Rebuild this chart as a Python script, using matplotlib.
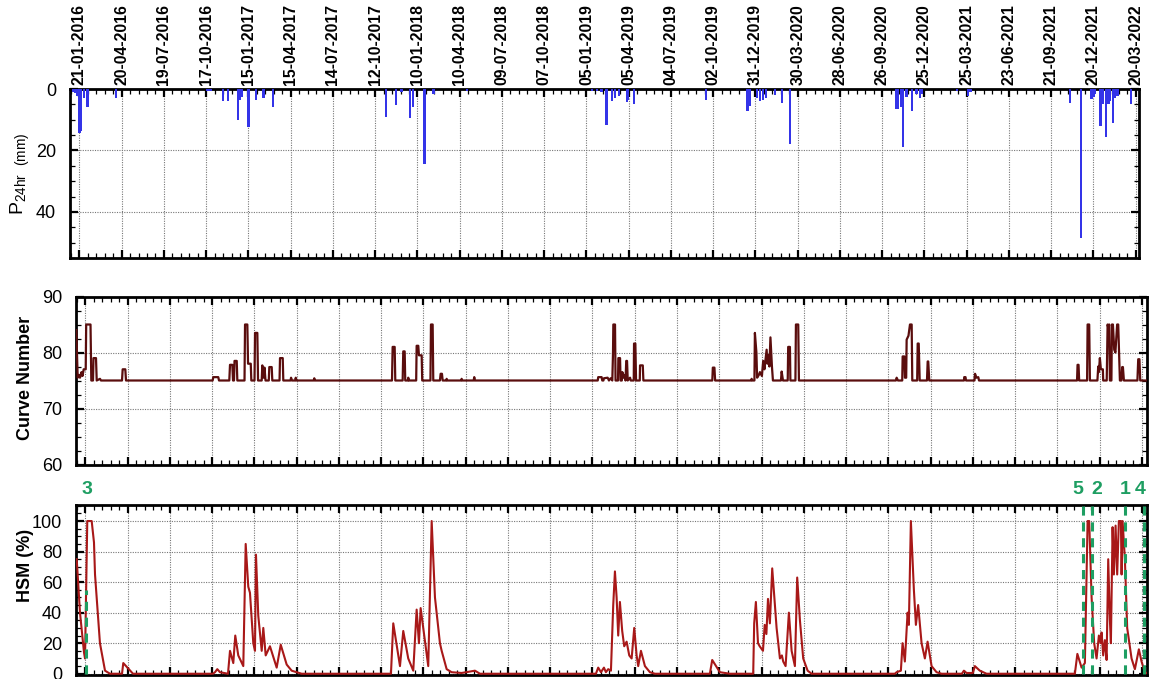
import numpy as np
import pandas as pd
import matplotlib
matplotlib.use("Agg")
import matplotlib.pyplot as plt
import matplotlib.transforms as mtransforms
from matplotlib.ticker import AutoMinorLocator, MultipleLocator, FixedLocator

plt.rcParams['font.family'] = ['Liberation Sans', 'DejaVu Sans']

START = pd.Timestamp('2016-01-01')

# tick labels along the top axis (every 90 days)
tick_labels = ['21-01-2016', '20-04-2016', '19-07-2016', '17-10-2016', '15-01-2017',
               '15-04-2017', '14-07-2017', '12-10-2017', '10-01-2018', '10-04-2018',
               '09-07-2018', '07-10-2018', '05-01-2019', '05-04-2019', '04-07-2019',
               '02-10-2019', '31-12-2019', '30-03-2020', '28-06-2020', '26-09-2020',
               '25-12-2020', '25-03-2021', '23-06-2021', '21-09-2021', '20-12-2021',
               '20-03-2022']

# daily rainfall (day since 2016-01-01, mm)
rain_day = [7, 11, 15, 20, 24, 30, 37, 98, 293, 299, 326, 336, 358, 362, 367, 380,
            396, 412, 433, 673, 694, 706, 724, 731, 755, 774, 845,
            1112, 1122, 1132, 1143, 1155, 1161, 1169, 1186, 1189, 1202, 1355,
            1443, 1448, 1463, 1470, 1476, 1482, 1502, 1516, 1534,
            1759, 1764, 1771, 1775, 1782, 1793, 1803, 1810, 1815, 1889, 1913, 1918,
            2130, 2153, 2176, 2180, 2183, 2195, 2200, 2207, 2212, 2215, 2221, 2226,
            2231, 2260]
rain_mm = [1.0, 1.2, 2.4, 14.3, 13.8, 3.0, 6.0, 3.0, 0.8, 0.8, 4.0, 3.8, 10.0, 3.5, 2.5, 12.3,
           3.5, 3.0, 6.0, 9.0, 5.2, 1.0, 9.5, 5.8, 24.5, 1.6, 0.5,
           0.8, 0.5, 1.0, 11.8, 4.0, 3.0, 2.4, 4.3, 3.5, 4.8, 3.5,
           7.2, 5.4, 3.0, 4.0, 3.5, 3.0, 1.8, 4.5, 18.0,
           6.4, 6.4, 5.7, 19.0, 2.5, 7.0, 1.5, 3.0, 1.5, 0.8, 2.4, 1.0,
           4.4, 48.6, 3.4, 2.5, 1.5, 12.2, 5.0, 15.5, 5.0, 4.0, 11.0, 3.0,
           2.2, 5.0]

# curve number
cn_day = [0.6, 3.6, 6.4, 8.5, 11.7, 13.8, 16.4, 20.7, 21.7, 30.9, 32.6, 36.2, 37.3, 42.6, 44.1,
          51.1, 53.2, 98, 99.4, 105, 106.5, 291, 292.4, 303, 304.6, 326.5, 328, 332.9, 334.4,
          336.5, 337.6, 342.3, 343.6, 358.9, 360, 364.9, 366.4, 372.2, 373.4, 380.2, 381.3,
          386.2, 387.7, 395.5, 396.8, 399.4, 401.5, 403.6, 410.6, 411.7, 416.8, 418.1, 433.5,
          434.5, 440.3, 441.5, 456.9, 458, 460.1, 466.9, 468, 469.6, 506.2, 507.5, 509,
          673, 674.4, 678.7, 680, 695.7, 697, 700, 701.2, 707, 707.6, 709.1, 724.5, 725.5,
          729, 730.4, 736.2, 737.4, 754.9, 756, 759.6, 760.9, 775.1, 776.6, 779.4, 780.9,
          788.6, 789.4, 791.1, 820.5, 821.3, 823, 846.9, 848.2, 849.7,
          1111.2, 1112.2, 1119.5, 1120.8, 1123.3, 1124.4, 1132.3, 1135.1, 1138.7, 1142.2,
          1143.7, 1144.4, 1148, 1149.1, 1154.4, 1155.1, 1158.7, 1159.8, 1162.5, 1163.6,
          1166.1, 1167.8, 1170.4, 1171.9, 1173.6, 1175.1, 1180, 1181.5, 1187.9, 1188.5,
          1191.3, 1192.8, 1200.7, 1201.3, 1207.1, 1208.4, 1355.2, 1356.3, 1359.7, 1361.2,
          1438.1, 1438.9, 1440.6, 1444.9, 1445.9, 1449.1, 1450.6, 1454.4, 1456.6, 1460.8,
          1463.6, 1466.2, 1470.9, 1472.6, 1474.3, 1476.8, 1479, 1482.2, 1484.3, 1501.4,
          1502.9, 1505.7, 1515.8, 1516.8, 1520.5, 1521.5, 1532.2, 1533.3, 1538.2, 1539.7,
          1746.3, 1747.8, 1750.6, 1759.7, 1760.6, 1764, 1765.5, 1768.1, 1769.1, 1773,
          1776.2, 1779.8, 1781.1, 1791.5, 1792.6, 1794.8, 1796.9, 1812.4, 1813.9, 1815.1,
          1817.3, 1891.3, 1891.7, 1894.5, 1895.5, 1913.6, 1914.7, 1917.9, 1921.7, 1923.2,
          2132, 2133.1, 2135.2, 2136.5, 2153.4, 2154.5, 2157.9, 2159.4, 2175.4, 2177.1,
          2178.5, 2180.6, 2182.8, 2187, 2187.7, 2195.2, 2197.1, 2198.8, 2200.5, 2202,
          2205.2, 2206.3, 2208.4, 2211.2, 2213.7, 2217.4, 2219.7, 2221.8, 2223.3, 2226.5,
          2228.2, 2229.7, 2231.8, 2260.6, 2262.3, 2264.9, 2266.6, 2280.9]
cn_val = [84, 75.5, 76, 75.5, 76.5, 75.8, 77, 77, 85, 85, 75, 75, 79, 79, 75,
          75.3, 75, 75, 77, 77, 75, 75, 75.6, 75.6, 75, 75, 77.8, 77.8, 75,
          75, 78.5, 78.5, 75, 75, 85, 85, 78, 78, 75, 75, 83.5,
          83.5, 75, 75, 77.7, 75.5, 77.3, 75, 75, 77.4, 77.4, 75, 75,
          79, 79, 75, 75, 75.5, 75, 75, 75.5, 75, 75, 75.4, 75,
          75, 81, 81, 75, 75, 80.2, 80.2, 75, 75, 75.5, 75, 75, 81.2,
          81.2, 79.5, 79.5, 75, 75, 85, 85, 75, 75, 76.2, 76.2, 75,
          75, 75.3, 75, 75, 75.3, 75, 75, 75.6, 75,
          75, 75.6, 75.6, 75, 75, 75.4, 75.5, 75, 75.4, 75,
          79.8, 85, 85, 75, 75, 79, 79, 75, 75, 76.5,
          75.5, 76, 75, 78.5, 78.5, 75, 75.5, 75, 75, 81.6,
          81.6, 75, 75, 77.7, 77.7, 75, 75, 77.3, 77.3, 75,
          75, 75.3, 75, 75, 83.5, 80, 75.5, 76, 76.5, 75.8,
          78.5, 77, 80.5, 78, 79.5, 77.5, 82.7, 77.5, 75, 75,
          76.6, 75, 75, 81, 81, 75, 75, 85, 85, 75,
          75, 75.5, 75, 75, 79.3, 79.3, 75.5, 75.5, 82.3, 83,
          85, 85, 75, 75, 81.6, 81.6, 75, 75, 78.4, 78.4,
          75, 75, 75.6, 75.6, 75, 75, 76.2, 75.5, 75.6, 75,
          75, 77.8, 77.8, 75, 75, 85, 85, 75, 75, 77.5,
          76.5, 79, 77, 77, 75, 75, 85, 84.3, 85, 75,
          75, 85, 85, 80.5, 80, 85, 85, 79, 75, 75,
          77.4, 77.4, 75, 75, 78.8, 78.8, 75, 75]

# soil moisture index HSM (%)
hsm_day = [1.5, 8.5, 17, 19.2, 24, 33.4, 38.3, 40.5, 51, 61.8, 72.4, 98, 100.7, 121.4,
           291.7, 296, 300.9, 306.6, 323.7, 328, 335, 339.2, 345.6, 356.3, 361.4, 366.9,
           370.5, 377.6, 381.2, 383.3, 388.2, 395.5, 398.9, 404, 413.1, 427.4, 436, 448.7,
           459.3, 470, 480.6, 670.8, 675.7, 690, 697, 707.6, 718.3, 725.5, 730.4, 734,
           750.2, 757.5, 764.5, 775.1, 778.8, 789.4, 800, 821.3, 849.7, 860.3,
           1107.3, 1112.2, 1118, 1124.4, 1128.6, 1133.5, 1139.3, 1144.2, 1147.8, 1151.4,
           1154.8, 1158.4, 1163.3, 1167.6, 1172.7, 1178.3, 1183.4, 1188.9, 1194, 1197.4,
           1203.2, 1211.7, 1222.3, 1233, 1350, 1355, 1371.4, 1392.7,
           1435.3, 1442.3, 1444.4, 1448, 1452.5, 1456.1, 1463.1, 1466.8, 1470.4, 1473.8,
           1477.8, 1482.8, 1488.5, 1492.1, 1499.2, 1503.4, 1506.2, 1511.3, 1518.3, 1524.1,
           1531.1, 1536, 1541.8, 1548.8, 1558.2, 1566.7,
           1744, 1747.7, 1756.8, 1760.4, 1765.3, 1771.1, 1773.8, 1778.1, 1784.5, 1788.8,
           1793.6, 1800.9, 1807.9, 1813.7, 1822.2, 1832.8, 1843.5, 1886.7, 1891, 1896.7,
           1910.1, 1914.4, 1925, 1939.3,
           2127.4, 2132.7, 2141.7, 2148.7, 2154.5, 2157.9, 2163, 2168.5, 2173.6, 2178.5,
           2182.2, 2184.3, 2187.7, 2191.3, 2195, 2198.4, 2202, 2204.1, 2207.7, 2210.5,
           2214.1, 2217.5, 2221.1, 2225.4, 2226.9, 2229, 2233.9, 2238.8, 2248.1, 2255.2,
           2263.7, 2269.4, 2276.4, 2282.8]
hsm_val = [75, 40, 14, 10, 100, 100, 86, 65, 20, 2, 0, 0, 7, 0,
           0, 1, 3, 1, 0, 15, 7, 25, 12, 5, 85, 57,
           53, 20, 15, 78, 38, 15, 30, 12, 18, 4, 19, 6,
           2, 1, 0, 0, 33, 5, 28, 10, 2, 42, 20, 43,
           5, 100, 50, 20, 15, 3, 1, 0.5, 2, 0,
           0, 4, 1, 4, 1, 3, 2, 45, 67, 50,
           25, 47, 28, 18, 21, 12, 10, 30, 12, 5,
           15, 5, 1, 0, 0, 9, 1, 0,
           0, 0, 33, 47, 20, 18, 15, 32, 26, 49,
           33, 69, 45, 30, 10, 12, 8, 5, 40, 15,
           5, 63, 35, 10, 2, 0,
           0, 1, 2, 20, 8, 40, 32, 100, 55, 32,
           45, 20, 10, 21, 5, 1, 0, 0, 2, 0.5,
           0.5, 5, 2, 0,
           0, 13, 4, 7, 100, 100, 50, 20, 10, 25,
           20, 27, 12, 22, 9, 75, 35, 20, 96, 65,
           97, 65, 100, 100, 65, 100, 75, 30, 10, 3,
           16, 8, 1, 0]

# event markers in the HSM panel
event_names = ['3', '5', '2', '1', '4']
event_day = [20.7, 2143.8, 2163, 2233.9, 2274.3]
event_top = [55, 110.5, 110.5, 110.5, 110.5]
event_label_day = [24, 2134, 2174, 2234, 2267]


def to_date(days):
    return START + pd.to_timedelta(np.asarray(days, dtype=float), unit='D')


ticks = pd.to_datetime(tick_labels, format='%d-%m-%Y')

fig = plt.figure(figsize=(11.49, 6.79), dpi=100)
ax1 = fig.add_axes([70 / 1149, 1 - 258 / 679, 1069 / 1149, 169 / 679])
ax2 = fig.add_axes([76 / 1149, 1 - 464.5 / 679, 1071 / 1149, 168 / 679])
ax3 = fig.add_axes([76 / 1149, 1 - 674.5 / 679, 1071 / 1149, 169.5 / 679])

ax1.bar(to_date(rain_day), rain_mm, width=5, color='#3434e8', align='center', zorder=3)
ax1.set_ylim(55, 0)
ax1.set_xlim(to_date([0])[0], to_date([2277])[0])
ax1.yaxis.set_major_locator(FixedLocator([0, 20, 40]))
ax1.yaxis.set_minor_locator(MultipleLocator(5))
ax1.set_ylabel(r'P$_{\mathregular{24hr\ \ (mm)}}$', fontsize=14)
ax1.yaxis.set_label_coords(-0.036, 0.5)

ax2.plot(to_date(cn_day), cn_val, color='#5a0d0d', lw=1.6, zorder=3)
ax2.set_ylim(60, 90)
ax2.yaxis.set_major_locator(MultipleLocator(10))
ax2.yaxis.set_minor_locator(MultipleLocator(2.5))
ax2.set_ylabel('Curve Number', fontsize=13, fontweight='bold')
ax2.yaxis.set_label_coords(-0.039, 0.515)

ax3.plot(to_date(hsm_day), hsm_val, color='#a81818', lw=1.5, zorder=3)
ax3.set_ylim(-0.5, 110.5)
ax3.yaxis.set_major_locator(FixedLocator([0, 20, 40, 60, 80, 100]))
ax3.yaxis.set_minor_locator(MultipleLocator(5))
ax3.set_ylabel('HSM (%)', fontsize=13, fontweight='bold')
ax3.yaxis.set_label_coords(-0.039, 0.645)

green = '#1e9e62'
trans = mtransforms.blended_transform_factory(ax3.transData, ax3.transAxes)
for name, d, top, ld in zip(event_names, event_day, event_top, event_label_day):
    ax3.plot(to_date([d, d]), [0, top], color=green, lw=2.2, ls=(0, (3, 2.2)), zorder=4,
             clip_on=False)
    ax3.text(to_date([ld])[0], 1.09, name, transform=trans, color=green, fontsize=14,
             fontweight='bold', ha='center', va='center')

for ax in (ax2, ax3):
    ax.set_xlim(to_date([0])[0], to_date([2281])[0])

for ax in (ax1, ax2, ax3):
    ax.xaxis.set_major_locator(FixedLocator(matplotlib.dates.date2num(ticks)))
    ax.xaxis.set_minor_locator(AutoMinorLocator(5))
    ax.grid(True, which='major', color='#777777', ls=(0, (1, 1.2)), lw=0.8, zorder=0)
    for s in ax.spines.values():
        s.set_linewidth(2.0)
    ax.tick_params(which='both', direction='in', top=True, bottom=True, left=True, right=True)
    ax.tick_params(which='major', length=6, width=1.6, labelsize=13, pad=10)
    ax.tick_params(which='minor', length=3.5, width=0.9)
    ax.tick_params(axis='x', labelbottom=False, labeltop=False)

ax1.tick_params(axis='x', labeltop=True, pad=3)
ax1.set_xticklabels(tick_labels, rotation=90, fontsize=11.4, fontweight='bold')

fig.savefig('out.png', dpi=100, facecolor='white')
